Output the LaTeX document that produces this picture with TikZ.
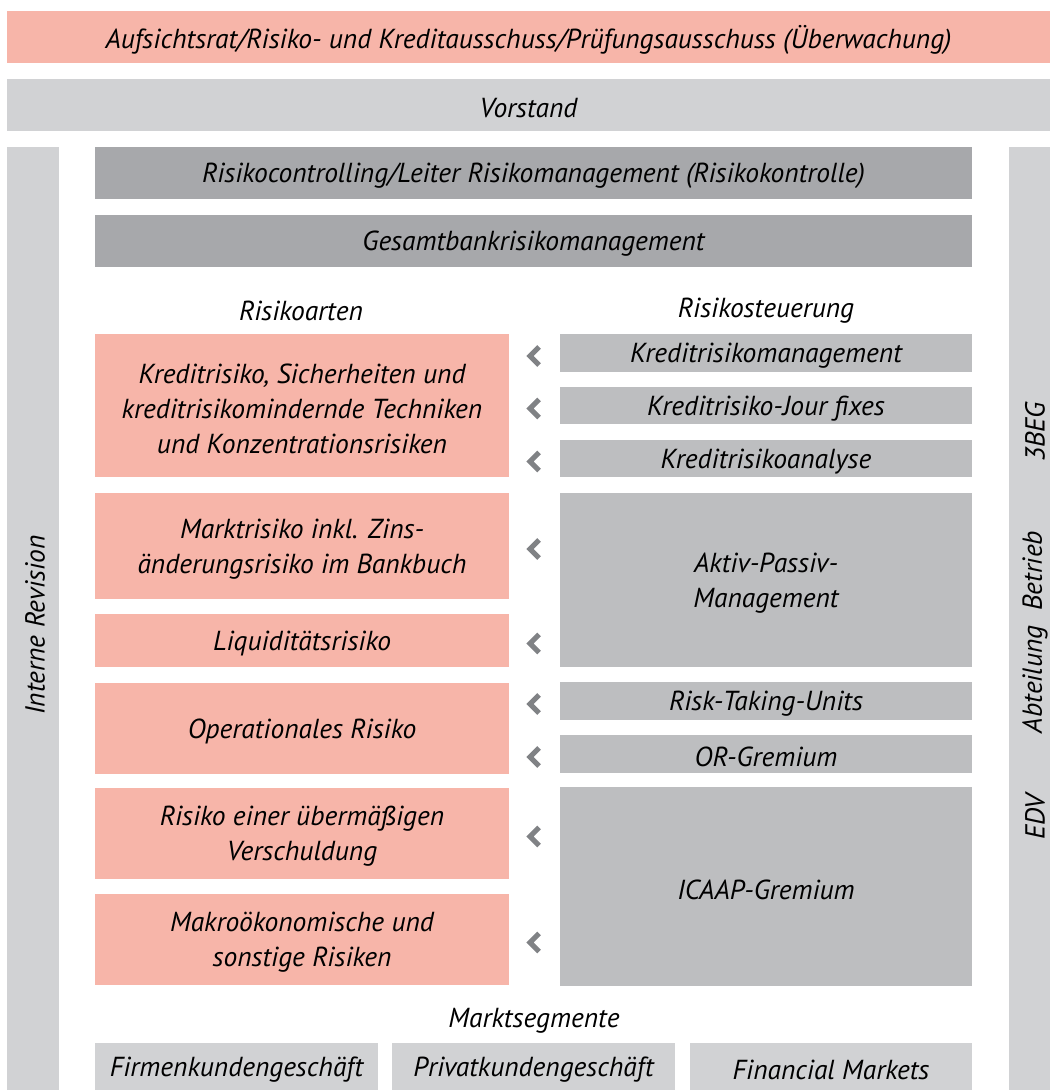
\documentclass[tikz,border=0pt]{standalone}
\usepackage{fontspec}
\setmainfont{PT Sans}
\usetikzlibrary{calc}
\definecolor{pinkcol}{HTML}{F7B5A9}
\definecolor{lightcol}{HTML}{D1D2D4}
\definecolor{darkcol}{HTML}{A7A8AB}
\definecolor{midcol}{HTML}{BDBEC0}
\definecolor{chevcol}{HTML}{808285}
\tikzset{
  chev/.pic={
    \draw[chevcol, line width=2.5pt, line join=miter, line cap=butt]
      (5,-9) -- (-4,0) -- (5,9);
  },
  txt/.style={inner sep=0pt, align=center, text=black, yshift=-1.5pt},
  lbl/.style={inner sep=0pt, text=black}
}

\begin{document}
\begin{tikzpicture}[
    x=0.5pt, y=-0.5pt,
    font=\fontsize{13.75}{17.5}\selectfont\itshape
  ]
  \useasboundingbox (0,0) rectangle (1050,1090);

  % --- top bars ------------------------------------------------------------
  \path[fill=pinkcol] (7,11) rectangle node[txt] (board)
    {Aufsichtsrat/Risiko- und Kreditausschuss/Prüfungsausschuss (Überwachung)} (1050,63);
  \path[fill=lightcol] (7,79) rectangle node[txt] (vorstand) {Vorstand} (1050,131);

  % --- side columns --------------------------------------------------------
  \fill[lightcol] (7,147) rectangle (59,1090);
  \node[lbl, rotate=90] (revision) at (35,625) {Interne Revision};
  \fill[lightcol] (1009,147) rectangle (1050,1090);
  \node[lbl, rotate=90] (beg) at (1035,432) {3BEG};
  \node[lbl, rotate=90] (betrieb) at (1035,632) {Abteilung\ \ Betrieb};
  \node[lbl, rotate=90] (edv) at (1035,817) {EDV};

  % --- risk control --------------------------------------------------------
  \path[fill=darkcol] (95,147) rectangle node[txt] (controlling)
    {Risikocontrolling/Leiter Risikomanagement (Risikokontrolle)} (972,199);
  \path[fill=darkcol] (95,215) rectangle node[txt] (gesamt) {Gesamtbankrisikomanagement} (972,267);

  \node[lbl] (arten) at (301,311) {Risikoarten};
  \node[lbl] (steuerung) at (766,311) {Risikosteuerung};

  % --- risk types (left) ---------------------------------------------------
  \path[fill=pinkcol] (95,334) rectangle node[txt] (kredit)
    {Kreditrisiko, Sicherheiten und\\kreditrisikomindernde Techniken\\und Konzentrationsrisiken} (509,477);
  \path[fill=pinkcol] (95,493) rectangle node[txt] (markt)
    {Marktrisiko inkl. Zins-\\änderungsrisiko im Bankbuch} (509,599);
  \path[fill=pinkcol] (95,614) rectangle node[txt] (liqui) {Liquiditätsrisiko} (509,667);
  \path[fill=pinkcol] (95,683) rectangle node[txt] (oprisk) {Operationales Risiko} (509,774);
  \path[fill=pinkcol] (95,788) rectangle node[txt] (verschuld)
    {Risiko einer übermäßigen\\Verschuldung} (509,879);
  \path[fill=pinkcol] (95,894) rectangle node[txt] (makro)
    {Makroökonomische und\\sonstige Risiken} (509,985);

  % --- steering units (right) ----------------------------------------------
  \path[fill=midcol] (560,334) rectangle node[txt] (kmgmt) {Kreditrisikomanagement} (972,372);
  \path[fill=midcol] (560,387) rectangle node[txt] (jourfix) {Kreditrisiko-Jour fixes} (972,424);
  \path[fill=midcol] (560,440) rectangle node[txt] (kanalyse) {Kreditrisikoanalyse} (972,477);
  \path[fill=midcol] (560,493) rectangle node[txt] (aktiv) {Aktiv-Passiv-\\Management} (972,667);
  \path[fill=midcol] (560,682) rectangle node[txt] (rtu) {Risk-Taking-Units} (972,720);
  \path[fill=midcol] (560,735) rectangle node[txt] (orgrem) {OR-Gremium} (972,773);
  \path[fill=midcol] (560,787) rectangle node[txt] (icaap) {ICAAP-Gremium} (972,986);

  % --- chevrons between the columns ----------------------------------------
  \coordinate (chevx) at (534,0);
  \foreach \row in {kmgmt, jourfix, kanalyse, markt, liqui, rtu, orgrem, verschuld, makro}
    \pic at (chevx |- \row) {chev};

  % --- market segments -----------------------------------------------------
  \node[lbl] (segmente) at (534,1021) {Marktsegmente};
  \path[fill=lightcol] (95,1043) rectangle node[txt] (firmen) {Firmenkundengeschäft} (378,1090);
  \path[fill=lightcol] (392,1043) rectangle node[txt] (privat) {Privatkundengeschäft} (675,1090);
  \path[fill=lightcol] (690,1043) rectangle node[txt] (finmarkets) {Financial Markets} (972,1090);

\end{tikzpicture}
\end{document}
